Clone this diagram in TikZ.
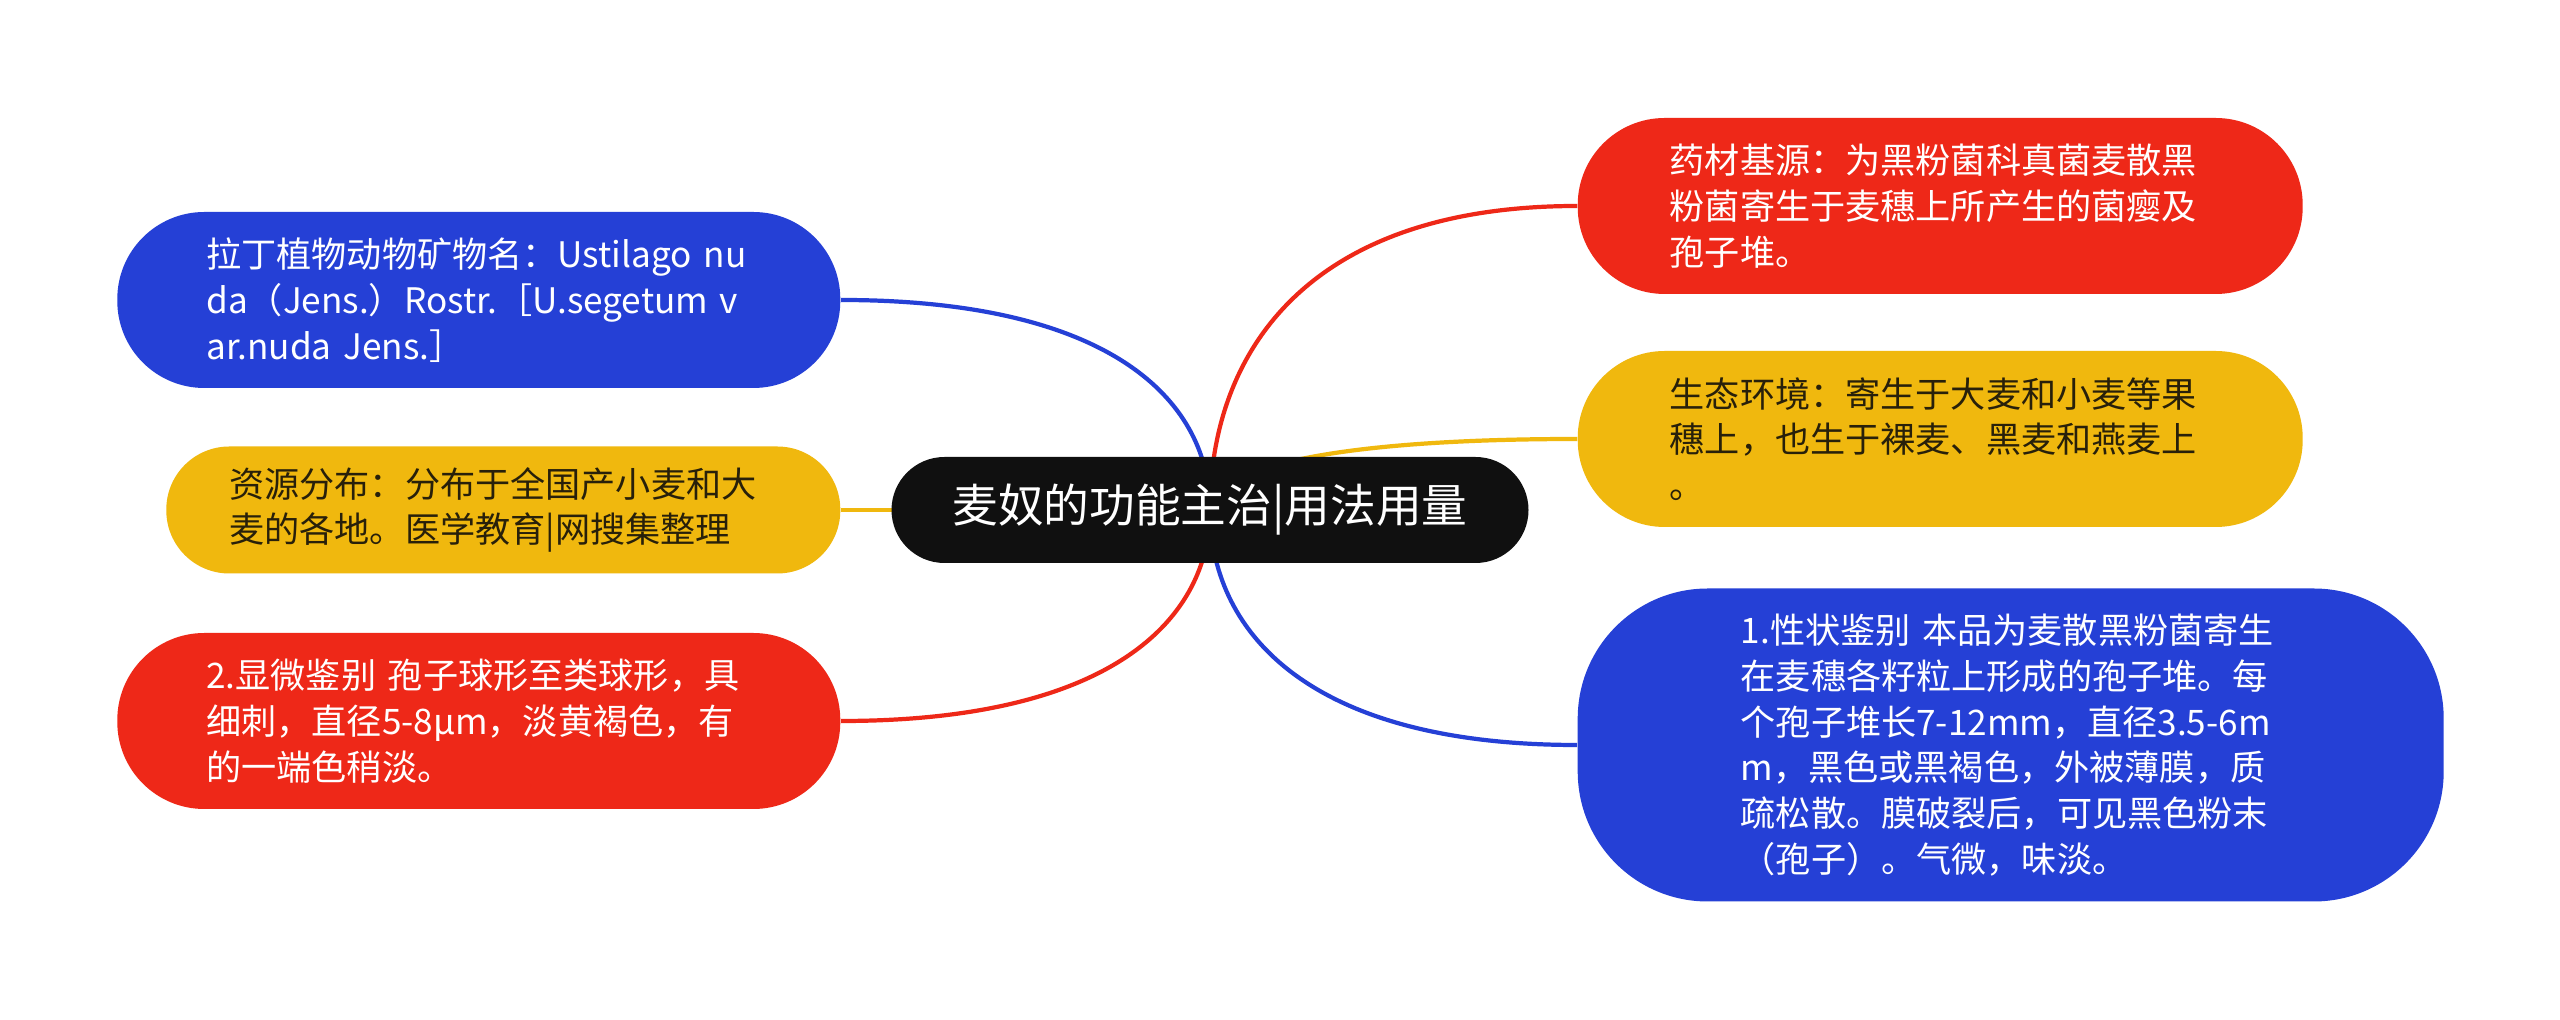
\documentclass[tikz,border=0pt]{standalone}
\usepackage{fontspec}
\setmainfont{Noto Sans CJK SC}
\usetikzlibrary{backgrounds}
\definecolor{mapblue}{RGB}{37,64,214}
\definecolor{mapred}{RGB}{238,40,24}
\definecolor{mapyellow}{RGB}{240,184,14}
\definecolor{mapdark}{RGB}{16,16,16}
\definecolor{yellowtext}{RGB}{40,32,10}
\begin{document}
\begin{tikzpicture}[x=1cm,y=1cm,
  topic/.style={fill=mapdark, text=white, rounded corners=0.53cm,
    minimum width=6.37cm, minimum height=1.06cm, inner sep=0pt,
    align=center, font=\fontsize{13pt}{16pt}\selectfont},
  leaf/.style={rounded corners=0.87cm, minimum height=1.76cm,
    inner ysep=0pt, align=left, font=\fontsize{10pt}{13pt}\selectfont},
  blueleaf/.style={leaf, fill=mapblue, text=white},
  redleaf/.style={leaf, fill=mapred, text=white},
  yellowleaf/.style={leaf, fill=mapyellow, text=yellowtext},
  link/.style={line width=1.2pt}]
\useasboundingbox (0,0) rectangle (25.6,-10.2);

\node[topic] (ctr) at (12.10,-5.10) {麦奴的功能主治|用法用量};

% left side
\node[blueleaf, anchor=east, inner xsep=0.89cm, text width=5.45cm] (lat) at (8.41,-3.00)
{拉丁植物动物矿物名：Ustilago nu\\da（Jens.）Rostr.［U.segetum v\\ar.nuda Jens.］};
\node[yellowleaf, anchor=east, inner xsep=0.63cm, text width=5.48cm,
  minimum height=1.27cm, rounded corners=0.63cm] (res) at (8.41,-5.10)
{资源分布：分布于全国产小麦和大\\麦的各地。医学教育|网搜集整理};
\node[redleaf, anchor=east, inner xsep=0.89cm, text width=5.45cm] (mic) at (8.41,-7.21)
{2.显微鉴别 孢子球形至类球形，具\\细刺，直径5-8μm，淡黄褐色，有\\的一端色稍淡。};

% right side
\node[redleaf, anchor=west, inner xsep=0.92cm, text width=5.41cm] (src) at (15.77,-2.06)
{药材基源：为黑粉菌科真菌麦散黑\\粉菌寄生于麦穗上所产生的菌瘿及\\孢子堆。};
\node[yellowleaf, anchor=west, inner xsep=0.92cm, text width=5.41cm] (eco) at (15.77,-4.39)
{生态环境：寄生于大麦和小麦等果\\穗上，也生于裸麦、黑麦和燕麦上\\。};
\node[blueleaf, anchor=west, inner xsep=1.63cm, text width=5.40cm,
  minimum height=3.13cm, rounded corners=1.3cm] (chr) at (15.77,-7.45)
{1.性状鉴别 本品为麦散黑粉菌寄生\\在麦穗各籽粒上形成的孢子堆。每\\个孢子堆长7-12mm，直径3.5-6m\\m，黑色或黑褐色，外被薄膜，质\\疏松散。膜破裂后，可见黑色粉末\\（孢子）。气微，味淡。};

% branches
\begin{pgfonlayer}{background}
\fill[white] (0,0) rectangle (25.6,-10.2);
\draw[link, mapblue] (ctr.center) .. controls +(0,1.05) and +(2.77,0) .. (lat.east);
\draw[link, mapyellow] (ctr.center) -- (res.east);
\draw[link, mapred] (ctr.center) .. controls +(0,-1.05) and +(2.77,0) .. (mic.east);
\draw[link, mapred] (ctr.center) .. controls +(0,1.52) and +(-2.75,0) .. (src.west);
\draw[link, mapyellow] (ctr.center) .. controls +(0,0.35) and +(-2.75,0) .. (eco.west);
\draw[link, mapblue] (ctr.center) .. controls +(0,-1.17) and +(-2.75,0) .. (chr.west);
\end{pgfonlayer}
\end{tikzpicture}
\end{document}
